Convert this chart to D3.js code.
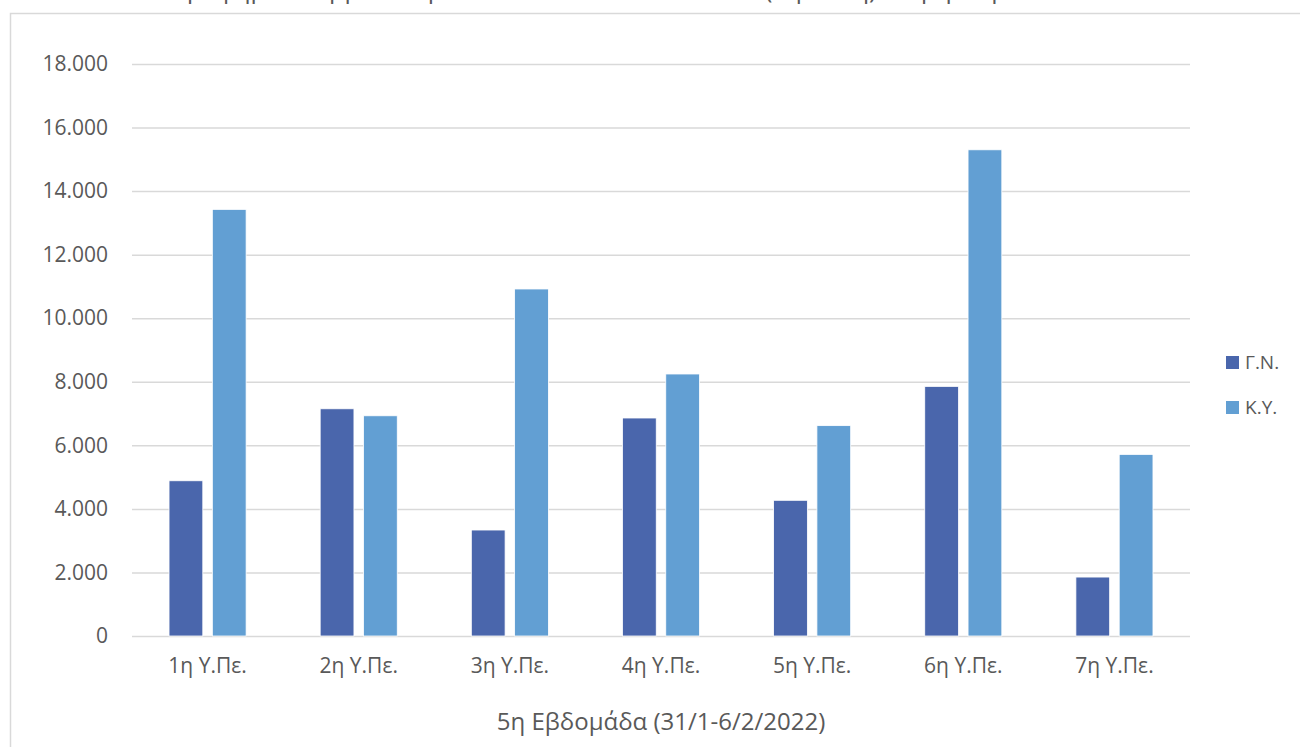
<!DOCTYPE html>
<html>
<head>
<meta charset="utf-8">
<title>Υ.Πε. chart</title>
<style>
  body { margin: 0; background: #fff; overflow: hidden; }
  .tick text { font-family: "Open Sans", sans-serif; fill: #595959; }
  .label { font-family: "Open Sans", sans-serif; fill: #595959; }
</style>
<script src="https://d3js.org/d3.v7.min.js"></script>
</head>
<body>
<script>
// data
var regions = ["1η Υ.Πε.", "2η Υ.Πε.", "3η Υ.Πε.", "4η Υ.Πε.", "5η Υ.Πε.", "6η Υ.Πε.", "7η Υ.Πε."];
var seriesNames = ["Γ.Ν.", "Κ.Υ."];
var gnValues = [4885, 7150, 3335, 6860, 4270, 7855, 1855];
var kyValues = [13425, 6930, 10920, 8245, 6620, 15300, 5715];
var yTicks = [0, 2000, 4000, 6000, 8000, 10000, 12000, 14000, 16000, 18000];
var colors = ["#4a66ac", "#629fd3"];

var W = 1300, H = 747;
var plot = {left: 132, right: 1190, top: 64, bottom: 636};

var svg = d3.select("body").append("svg")
    .attr("width", W).attr("height", H);

// chart frame
svg.append("rect")
   .attr("x", 10.5).attr("y", 13.5)
   .attr("width", 1300).attr("height", 760)
   .attr("fill", "#fff").attr("stroke", "#d9d9d9").attr("stroke-width", 1.5);

// title sits mostly above the window, only its lower part shows
svg.append("text")
   .attr("class", "label")
   .attr("x", 645).attr("y", -2)
   .attr("text-anchor", "middle")
   .attr("font-size", 25)
   .text("Γράφημα 1: Εμβολιασμοί ανά Υ.Πε. σε Γ.Ν. και Κ.Υ. (3η δόση) - 5η εβδομάδα 2022");

var x0 = d3.scaleBand().domain(regions).range([plot.left, plot.right]).paddingInner(0.49).paddingOuter(0.245);
var x1 = d3.scaleBand().domain(seriesNames).range([0, x0.bandwidth()]).paddingInner(0.22);
var y = d3.scaleLinear().domain([0, 18000]).range([plot.bottom, plot.top]);

var fmt = function(d) { return d3.format(",")(d).replace(/,/g, "."); };

// gridlines + y labels
var yAxis = svg.append("g")
   .attr("transform", "translate(" + plot.left + ",0)")
   .call(d3.axisLeft(y).tickValues(yTicks).tickFormat(fmt)
           .tickSize(-(plot.right - plot.left)).tickPadding(24));
yAxis.select(".domain").remove();
yAxis.selectAll(".tick line").attr("stroke", "#d9d9d9").attr("stroke-width", 1.5);
yAxis.selectAll(".tick text").attr("font-size", 21);

// bars
var groups = svg.selectAll("g.grp")
   .data(regions)
   .enter().append("g")
   .attr("class", "grp")
   .attr("transform", function(d) { return "translate(" + x0(d) + ",0)"; });

groups.selectAll("rect")
   .data(function(d, i) { return [{s: seriesNames[0], v: gnValues[i]}, {s: seriesNames[1], v: kyValues[i]}]; })
   .enter().append("rect")
   .attr("x", function(d) { return x1(d.s); })
   .attr("width", x1.bandwidth())
   .attr("y", function(d) { return y(d.v); })
   .attr("height", function(d) { return y(0) - y(d.v); })
   .attr("fill", function(d, i) { return colors[i]; })
   .attr("stroke", "#fff").attr("stroke-width", 0.8);

// x labels
var xAxis = svg.append("g")
   .attr("transform", "translate(0," + plot.bottom + ")")
   .call(d3.axisBottom(x0).tickSize(0).tickPadding(22));
xAxis.select(".domain").remove();
xAxis.selectAll(".tick text").attr("font-size", 21);

// axis title
svg.append("text")
   .attr("class", "label")
   .attr("x", (plot.left + plot.right) / 2).attr("y", 730)
   .attr("text-anchor", "middle")
   .attr("font-size", 24)
   .text("5η Εβδομάδα (31/1-6/2/2022)");

// legend
var legend = svg.selectAll("g.leg")
   .data(seriesNames)
   .enter().append("g")
   .attr("class", "leg")
   .attr("transform", function(d, i) { return "translate(1226," + (356 + i * 45) + ")"; });
legend.append("rect")
   .attr("width", 13).attr("height", 13)
   .attr("fill", function(d, i) { return colors[i]; });
legend.append("text")
   .attr("class", "label")
   .attr("x", 19).attr("y", 13)
   .attr("font-size", 19)
   .text(function(d) { return d; });
</script>
</body>
</html>
